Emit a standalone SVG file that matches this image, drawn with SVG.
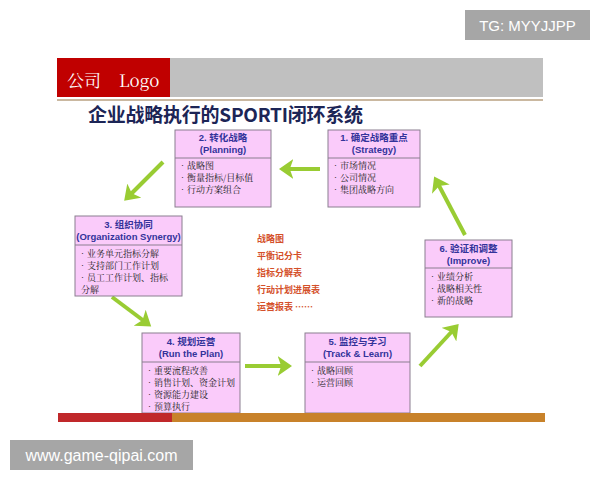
<svg xmlns="http://www.w3.org/2000/svg" width="600" height="480" viewBox="0 0 600 480">
<style>
.box{fill:#facbfa;stroke:#8a7f8f;stroke-width:1}
.div{stroke:#8a7f8f;stroke-width:1}
.tt{font-family:"Liberation Sans","Noto Sans CJK SC",sans-serif;font-size:9.5px;font-weight:bold;fill:#33339a;text-anchor:middle}
.bd{font-family:"Noto Serif CJK SC","Noto Sans CJK SC",serif;font-size:9px;fill:#222}
.ct{font-family:"Noto Sans CJK SC",sans-serif;font-size:9px;font-weight:bold;fill:#d4502a}
.arr{stroke:#99cc33;stroke-width:4;fill:none;marker-end:url(#ah)}
.wm{font-family:"Liberation Sans",sans-serif;fill:#fff;text-anchor:middle}
</style>
<defs>
<marker id="ah" markerWidth="5" markerHeight="5" refX="2.6" refY="2.5" orient="auto" markerUnits="strokeWidth">
<path d="M0,0 L3.6,2.5 L0,5 L0.9,2.5 Z" fill="#99cc33"/>
</marker>
</defs>
<rect width="600" height="480" fill="#fff"/>
<g id="header">
<rect x="57" y="58" width="486" height="39" fill="#c0c0c0"/>
<rect x="57" y="58" width="113" height="39" fill="#c00000"/>
<text x="67" y="87" font-family="'Noto Serif CJK SC','Liberation Serif',serif" font-size="17" fill="#fff">公司<tspan x="119">Logo</tspan></text>
<line x1="57" y1="100" x2="543" y2="100" stroke="#b8a080" stroke-width="1.5"/>
<text x="88" y="122" font-family="'Noto Sans CJK SC',sans-serif" font-size="19" font-weight="bold" fill="#1c2556" textLength="275">企业战略执行的SPORTI闭环系统</text>
</g>
<g id="connectors">
<line class="arr" x1="320" y1="169" x2="283" y2="169"/>
<line class="arr" x1="163" y1="162" x2="127" y2="198"/>
<line class="arr" x1="112" y1="297" x2="148" y2="324"/>
<line class="arr" x1="245" y1="366" x2="288" y2="366"/>
<line class="arr" x1="420" y1="366" x2="456" y2="327"/>
<line class="arr" x1="465" y1="235" x2="436" y2="180"/>
</g>
<g id="n1">
<rect class="box" x="328" y="130" width="92" height="77"/>
<line class="div" x1="328" y1="158" x2="420" y2="158"/>
<text class="tt" x="374" y="141">1.   确定战略重点</text>
<text class="tt" x="374" y="153">(Strategy)</text>
<text class="bd" x="331" y="169">•市场情况</text>
<text class="bd" x="331" y="181">•公司情况</text>
<text class="bd" x="331" y="193">•集团战略方向</text>
</g>
<g id="n2">
<rect class="box" x="175" y="130" width="96" height="77"/>
<line class="div" x1="175" y1="158" x2="271" y2="158"/>
<text class="tt" x="223" y="141">2. 转化战略</text>
<text class="tt" x="223" y="153">(Planning)</text>
<text class="bd" x="178" y="169">•战略图</text>
<text class="bd" x="178" y="181">•衡量指标/目标值</text>
<text class="bd" x="178" y="193">•行动方案组合</text>
</g>
<g id="n3">
<rect class="box" x="75" y="216" width="107" height="80"/>
<line class="div" x1="75" y1="245" x2="182" y2="245"/>
<text class="tt" x="128.5" y="228">3. 组织协同</text>
<text class="tt" x="128.5" y="240">(Organization Synergy)</text>
<text class="bd" x="78" y="257">•业务单元指标分解</text>
<text class="bd" x="78" y="269">•支持部门工作计划</text>
<text class="bd" x="78" y="281">•员工工作计划、指标</text>
<text class="bd" x="81" y="293">分解</text>
</g>
<g id="n4">
<rect class="box" x="142" y="333" width="98" height="80"/>
<line class="div" x1="142" y1="362" x2="240" y2="362"/>
<text class="tt" x="191" y="345">4. 规划运营</text>
<text class="tt" x="191" y="357">(Run the Plan)</text>
<text class="bd" x="145" y="374">•重要流程改善</text>
<text class="bd" x="145" y="386">•销售计划、资金计划</text>
<text class="bd" x="145" y="398">•资源能力建设</text>
<text class="bd" x="145" y="410">•预算执行</text>
</g>
<g id="n5">
<rect class="box" x="305" y="333" width="105" height="80"/>
<line class="div" x1="305" y1="362" x2="410" y2="362"/>
<text class="tt" x="357.5" y="345">5. 监控与学习</text>
<text class="tt" x="357.5" y="357">(Track &amp; Learn)</text>
<text class="bd" x="308" y="374">•战略回顾</text>
<text class="bd" x="308" y="386">•运营回顾</text>
</g>
<g id="n6">
<rect class="box" x="425" y="240" width="87" height="77"/>
<line class="div" x1="425" y1="268" x2="512" y2="268"/>
<text class="tt" x="468.5" y="252">6. 验证和调整</text>
<text class="tt" x="468.5" y="264">(Improve)</text>
<text class="bd" x="428" y="280">•业绩分析</text>
<text class="bd" x="428" y="292">•战略相关性</text>
<text class="bd" x="428" y="304">•新的战略</text>
</g>
<g id="center">
<text class="ct" x="257" y="242">战略图</text>
<text class="ct" x="257" y="259">平衡记分卡</text>
<text class="ct" x="257" y="276">指标分解表</text>
<text class="ct" x="257" y="293">行动计划进展表</text>
<text class="ct" x="257" y="310">运营报表 ……</text>
</g>
<g id="footer">
<rect x="58" y="413" width="114" height="9" fill="#c0282a"/>
<rect x="172" y="413" width="373" height="9" fill="#c8822a"/>
</g>
<g id="watermarks">
<rect x="465" y="10" width="125" height="30" fill="#a6a6a6"/>
<text class="wm" x="527.5" y="31" font-size="15">TG: MYYJJPP</text>
<rect x="10" y="440" width="183" height="30" fill="#a6a6a6"/>
<text class="wm" x="101.5" y="461" font-size="16">www.game-qipai.com</text>
</g>
</svg>
